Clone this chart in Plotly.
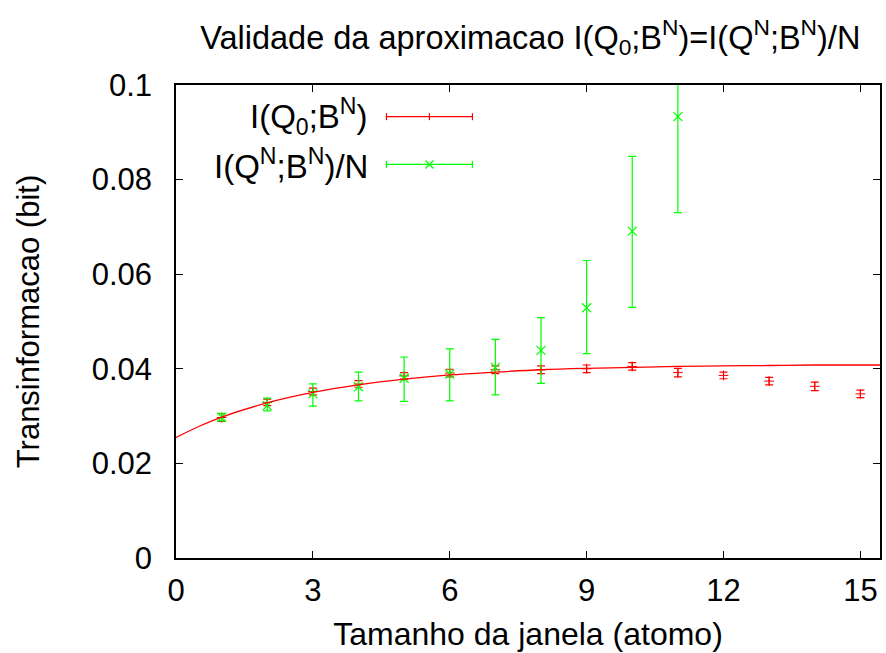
import plotly.graph_objects as go

# ---- data ----
window = [1, 2, 3, 4, 5, 6, 7, 8, 9, 10, 11, 12, 13, 14, 15]
red_y = [0.0297, 0.0329, 0.0352, 0.0368, 0.0385, 0.0391, 0.0398, 0.0398, 0.0400,
         0.0405, 0.0392, 0.0386, 0.0374, 0.0363, 0.0347]
red_err = [0.0008, 0.0007, 0.0007, 0.0007, 0.0007, 0.0008, 0.0008, 0.0008, 0.0008,
           0.0008, 0.0009, 0.0007, 0.0008, 0.0009, 0.0008]

green_x = [1, 2, 3, 4, 5, 6, 7, 8, 9, 10, 11]
green_y = [0.0298, 0.0322, 0.0347, 0.0362, 0.0380, 0.0389, 0.0403, 0.0439, 0.0529, 0.0691, 0.0933]
green_lo = [0.0290, 0.0311, 0.0321, 0.0332, 0.0331, 0.0332, 0.0345, 0.0369, 0.0432, 0.0530, 0.0730]
green_hi = [0.0306, 0.0338, 0.0368, 0.0393, 0.0425, 0.0442, 0.0462, 0.0508, 0.0629, 0.0849, 0.1136]

fit_x = [0, 0.5, 1, 2, 3, 4, 5, 6, 7, 8, 9, 10, 11, 12, 13, 14, 15.43]
fit_y = [0.0255, 0.0278, 0.0298, 0.0328, 0.0350, 0.0366, 0.0378, 0.0387, 0.0393,
         0.0398, 0.0401, 0.0403, 0.0405, 0.0406, 0.0407, 0.0408, 0.0408]

x_ticks = [0, 3, 6, 9, 12, 15]
y_ticks = [0, 0.02, 0.04, 0.06, 0.08, 0.1]
y_tick_text = ["0", "0.02", "0.04", "0.06", "0.08", "0.1"]

label_red = "I(Q<sub>0</sub>;B<sup>N</sup>)"
label_green = "I(Q<sup>N</sup>;B<sup>N</sup>)/N"
title = "Validade da aproximacao I(Q<sub>0</sub>;B<sup>N</sup>)=I(Q<sup>N</sup>;B<sup>N</sup>)/N"

RED = "#ff0000"
GREEN = "#00ff00"
FONT = "Liberation Sans"
FS = 31

fig = go.Figure()

fig.add_trace(go.Scatter(
    x=window, y=red_y, mode="markers", showlegend=False,
    marker=dict(symbol="cross-thin", size=7, line=dict(color=RED, width=1), color=RED),
    error_y=dict(type="data", array=red_err, color=RED, thickness=1.2, width=4),
))

fig.add_trace(go.Scatter(
    x=green_x, y=green_y, mode="markers", showlegend=False,
    marker=dict(symbol="x-thin", size=9, line=dict(color=GREEN, width=1.2), color=GREEN),
    error_y=dict(type="data",
                 array=[h - y for h, y in zip(green_hi, green_y)],
                 arrayminus=[y - l for l, y in zip(green_lo, green_y)],
                 color=GREEN, thickness=1.2, width=4),
))

fig.add_trace(go.Scatter(
    x=fit_x, y=fit_y, mode="lines", showlegend=False,
    line=dict(color=RED, width=1.3, shape="spline"),
))

# ---- gnuplot-style legend (text then sample) ----
shapes = []
annotations = []
rows = [(0.933, label_red, RED, "plus"), (0.832, label_green, GREEN, "x")]
for ya, txt, col, mk in rows:
    annotations.append(dict(xref="paper", yref="paper", x=0.275, y=ya, text=txt,
                            showarrow=False, xanchor="right", yanchor="middle",
                            font=dict(family=FONT, size=33, color="black")))
    base = dict(type="line", xref="paper", yref="paper", xsizemode="pixel",
                ysizemode="pixel", xanchor=0.36, yanchor=ya,
                line=dict(color=col, width=1.2))
    shapes.append(dict(base, x0=-43, x1=43, y0=0, y1=0))
    shapes.append(dict(base, x0=-43, x1=-43, y0=-3.5, y1=3.5))
    shapes.append(dict(base, x0=43, x1=43, y0=-3.5, y1=3.5))
    if mk == "plus":
        shapes.append(dict(base, x0=0, x1=0, y0=-3.5, y1=3.5))
    else:
        shapes.append(dict(base, x0=-4, x1=4, y0=-4, y1=4))
        shapes.append(dict(base, x0=-4, x1=4, y0=4, y1=-4))

axis_common = dict(showline=True, linecolor="black", linewidth=1.5, mirror="ticks",
                   ticks="inside", ticklen=7, tickwidth=1, tickcolor="black",
                   showgrid=False, zeroline=False,
                   tickfont=dict(family=FONT, size=FS, color="black"))

fig.update_layout(
    width=886, height=653,
    margin=dict(l=176, r=4, t=85, b=95),
    paper_bgcolor="white", plot_bgcolor="white",
    title=dict(text=title, x=0.5985, xanchor="center", y=0.943, yanchor="middle",
               font=dict(family=FONT, size=32.5, color="black")),
    xaxis=dict(axis_common, range=[0, 15.43], tickvals=x_ticks, ticklabelstandoff=4,
               title=dict(text="Tamanho da janela (atomo)", standoff=16,
                          font=dict(family=FONT, size=32, color="black"))),
    yaxis=dict(axis_common, range=[0, 0.1], tickvals=y_ticks, ticktext=y_tick_text,
               ticklabelstandoff=16,
               title=dict(text="Transinformacao (bit)", standoff=43,
                          font=dict(family=FONT, size=FS, color="black"))),
    shapes=shapes, annotations=annotations,
)

fig.write_html("out.html")
